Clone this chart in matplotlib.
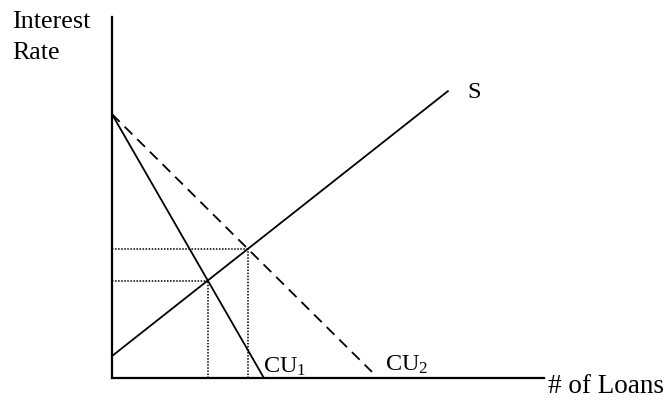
import numpy as np
import matplotlib
matplotlib.use("Agg")
import matplotlib.pyplot as plt

# curves given as (intercept at x=0, value at end point)
s_x = [0.0, 9.33]
s_y = [0.61, 7.97]
cu1_x = [0.0, 4.22]
cu1_y = [7.33, 0.0]
cu2_x = [0.0, 7.22]
cu2_y = [7.33, 0.17]

y_label = ["Interest", "Rate"]
x_label = "# of Loans"

plt.rcParams['font.family'] = ['Liberation Serif', 'DejaVu Serif']
plt.rcParams['mathtext.fontset'] = 'custom'
plt.rcParams['mathtext.rm'] = 'Liberation Serif'
plt.rcParams['mathtext.it'] = 'Liberation Serif:italic'


def line_coef(xs, ys):
    m = (ys[1] - ys[0]) / (xs[1] - xs[0])
    return m, ys[0] - m * xs[0]


def crossing(a, b):
    m1, b1 = a
    m2, b2 = b
    x = (b2 - b1) / (m1 - m2)
    return x, m1 * x + b1


fig = plt.figure(figsize=(6.65, 4.04), dpi=100)
ax = fig.add_axes([112 / 665, 26 / 404, 432 / 665, 361 / 404])
ax.set_xlim(0, 12)
ax.set_ylim(0, 10.03)
for side in ["top", "right"]:
    ax.spines[side].set_visible(False)
for side in ["left", "bottom"]:
    ax.spines[side].set_linewidth(1.6)
ax.set_xticks([])
ax.set_yticks([])

ax.plot(s_x, s_y, color="black", lw=1.3, clip_on=False)
ax.plot(cu1_x, cu1_y, color="black", lw=1.3, clip_on=False)
ax.plot(cu2_x, cu2_y, color="black", lw=1.3, dashes=(6, 3.85), clip_on=False)

# dotted guides down to the crossings with S
s_line = line_coef(s_x, s_y)
for cu_x, cu_y in [(cu1_x, cu1_y), (cu2_x, cu2_y)]:
    px, py = crossing(s_line, line_coef(cu_x, cu_y))
    ax.plot([0, px], [py, py], color="black", lw=1.1, linestyle=(0, (1, 1)))
    ax.plot([px, px], [0, py], color="black", lw=1.1, linestyle=(0, (1, 1)))

ax.text(9.86, 7.78, "S", fontsize=17.5, va="baseline")
ax.text(4.19, 0.14, r"CU$_1$", fontsize=17.5, va="baseline")
ax.text(7.58, 0.19, r"CU$_2$", fontsize=17.5, va="baseline")

fig.text(12 / 665, 1 - 28 / 404, y_label[0], fontsize=18.7, va="baseline")
fig.text(12 / 665, 1 - 59 / 404, y_label[1], fontsize=18.7, va="baseline")
fig.text(548 / 665, 1 - 393 / 404, x_label, fontsize=19.5, va="baseline")

fig.savefig("out.png", dpi=100)
